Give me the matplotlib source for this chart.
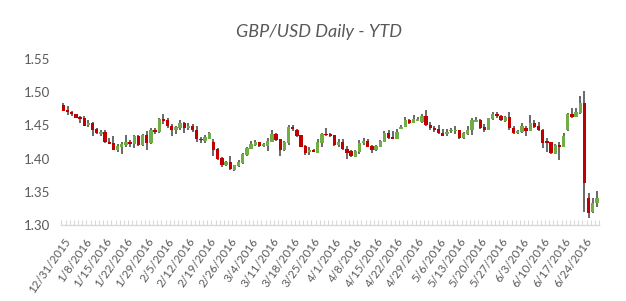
import numpy as np
import pandas as pd
import matplotlib
matplotlib.use('Agg')
import matplotlib.pyplot as plt

plt.rcParams['font.family'] = ['Lato', 'DejaVu Sans']

# trading days: 12/31/2015 then every weekday to 6/29/2016
dates = pd.DatetimeIndex(['2015-12-31']).append(pd.bdate_range('2016-01-04', '2016-06-29'))

opens = [
    1.4807, 1.4737, 1.4697, 1.4667, 1.4627, 1.4612, 1.4506, 1.4536, 1.4446, 1.4365,
    1.4396, 1.4255, 1.4235, 1.4135, 1.4175, 1.4205, 1.4255, 1.4225, 1.4345, 1.4210,
    1.4355, 1.4230, 1.4436, 1.4396, 1.4597, 1.4577, 1.4491, 1.4431, 1.4461, 1.4531,
    1.4466, 1.4486, 1.4426, 1.4295, 1.4260, 1.4300, 1.4250, 1.4145, 1.4009, 1.3904,
    1.3954, 1.3833, 1.3889, 1.3939, 1.4060, 1.4150, 1.4200, 1.4250, 1.4190, 1.4190,
    1.4250, 1.4371, 1.4290, 1.4130, 1.4240, 1.4481, 1.4431, 1.4351, 1.4190, 1.4095,
    1.4135, 1.4090, 1.4230, 1.4371, 1.4366, 1.4361, 1.4200, 1.4245, 1.4150, 1.4110,
    1.4029, 1.4100, 1.4230, 1.4270, 1.4195, 1.4130, 1.4180, 1.4255, 1.4391, 1.4330,
    1.4300, 1.4451, 1.4471, 1.4581, 1.4531, 1.4571, 1.4547, 1.4647, 1.4506, 1.4466,
    1.4446, 1.4386, 1.4366, 1.4416, 1.4416, 1.4426, 1.4305, 1.4366, 1.4426, 1.4557,
    1.4587, 1.4476, 1.4436, 1.4597, 1.4667, 1.4647, 1.4567, 1.4627, 1.4466, 1.4386,
    1.4396, 1.4456, 1.4416, 1.4536, 1.4486, 1.4436, 1.4265, 1.4245, 1.4074, 1.4205,
    1.4175, 1.4426, 1.4667, 1.4627, 1.4687, 1.4843, 1.3407, 1.3196, 1.3327,
]
highs = [
    1.4830, 1.4797, 1.4717, 1.4670, 1.4637, 1.4637, 1.4587, 1.4546, 1.4466, 1.4426,
    1.4426, 1.4315, 1.4335, 1.4215, 1.4255, 1.4355, 1.4275, 1.4355, 1.4360, 1.4375,
    1.4416, 1.4466, 1.4456, 1.4607, 1.4667, 1.4607, 1.4526, 1.4496, 1.4577, 1.4557,
    1.4536, 1.4526, 1.4496, 1.4325, 1.4355, 1.4396, 1.4290, 1.4160, 1.4029, 1.3969,
    1.4039, 1.3904, 1.3979, 1.4079, 1.4180, 1.4260, 1.4280, 1.4255, 1.4230, 1.4310,
    1.4431, 1.4391, 1.4290, 1.4260, 1.4511, 1.4511, 1.4441, 1.4351, 1.4210, 1.4180,
    1.4150, 1.4290, 1.4391, 1.4461, 1.4381, 1.4361, 1.4290, 1.4290, 1.4190, 1.4130,
    1.4130, 1.4280, 1.4310, 1.4300, 1.4210, 1.4210, 1.4280, 1.4411, 1.4431, 1.4421,
    1.4441, 1.4511, 1.4621, 1.4601, 1.4661, 1.4621, 1.4667, 1.4737, 1.4546, 1.4486,
    1.4506, 1.4446, 1.4446, 1.4456, 1.4496, 1.4431, 1.4396, 1.4496, 1.4607, 1.4627,
    1.4597, 1.4516, 1.4617, 1.4707, 1.4697, 1.4657, 1.4647, 1.4697, 1.4486, 1.4426,
    1.4536, 1.4496, 1.4657, 1.4587, 1.4546, 1.4446, 1.4305, 1.4255, 1.4215, 1.4245,
    1.4386, 1.4687, 1.4767, 1.4767, 1.4943, 1.5014, 1.3477, 1.3407, 1.3518,
]
lows = [
    1.4715, 1.4657, 1.4637, 1.4607, 1.4536, 1.4486, 1.4476, 1.4335, 1.4365, 1.4345,
    1.4235, 1.4215, 1.4124, 1.4104, 1.4064, 1.4175, 1.4175, 1.4165, 1.4195, 1.4195,
    1.4135, 1.4225, 1.4366, 1.4386, 1.4526, 1.4466, 1.4335, 1.4375, 1.4436, 1.4386,
    1.4436, 1.4406, 1.4255, 1.4235, 1.4235, 1.4290, 1.4040, 1.3979, 1.3869, 1.3889,
    1.3828, 1.3818, 1.3879, 1.3919, 1.4039, 1.4140, 1.4190, 1.4170, 1.4170, 1.4110,
    1.4250, 1.4270, 1.4039, 1.4120, 1.4210, 1.4411, 1.4330, 1.4170, 1.4059, 1.4049,
    1.4100, 1.4090, 1.4180, 1.4341, 1.4330, 1.4190, 1.4170, 1.4130, 1.3995, 1.4029,
    1.4029, 1.4070, 1.4200, 1.4170, 1.4080, 1.4120, 1.4170, 1.4250, 1.4300, 1.4290,
    1.4290, 1.4441, 1.4471, 1.4521, 1.4531, 1.4566, 1.4536, 1.4496, 1.4426, 1.4406,
    1.4366, 1.4335, 1.4346, 1.4386, 1.4366, 1.4295, 1.4295, 1.4355, 1.4355, 1.4546,
    1.4446, 1.4406, 1.4426, 1.4587, 1.4617, 1.4567, 1.4557, 1.4436, 1.4366, 1.4376,
    1.4386, 1.4335, 1.4416, 1.4466, 1.4416, 1.4165, 1.4094, 1.4074, 1.4074, 1.3984,
    1.4170, 1.4416, 1.4607, 1.4627, 1.4677, 1.3201, 1.3106, 1.3186, 1.3267,
]
closes = [
    1.4722, 1.4697, 1.4667, 1.4617, 1.4602, 1.4496, 1.4536, 1.4436, 1.4386, 1.4396,
    1.4245, 1.4225, 1.4135, 1.4195, 1.4215, 1.4255, 1.4225, 1.4345, 1.4210, 1.4351,
    1.4230, 1.4436, 1.4396, 1.4597, 1.4567, 1.4491, 1.4431, 1.4471, 1.4531, 1.4466,
    1.4496, 1.4426, 1.4295, 1.4275, 1.4330, 1.4390, 1.4130, 1.4000, 1.3909, 1.3954,
    1.3843, 1.3904, 1.3954, 1.4069, 1.4160, 1.4220, 1.4250, 1.4190, 1.4220, 1.4270,
    1.4371, 1.4280, 1.4130, 1.4250, 1.4481, 1.4451, 1.4341, 1.4180, 1.4090, 1.4135,
    1.4105, 1.4245, 1.4371, 1.4361, 1.4346, 1.4205, 1.4245, 1.4140, 1.4090, 1.4035,
    1.4110, 1.4235, 1.4270, 1.4180, 1.4130, 1.4195, 1.4270, 1.4391, 1.4310, 1.4300,
    1.4401, 1.4481, 1.4581, 1.4531, 1.4601, 1.4601, 1.4647, 1.4506, 1.4456, 1.4436,
    1.4386, 1.4346, 1.4406, 1.4426, 1.4426, 1.4305, 1.4386, 1.4436, 1.4577, 1.4587,
    1.4466, 1.4436, 1.4607, 1.4667, 1.4637, 1.4577, 1.4627, 1.4456, 1.4386, 1.4416,
    1.4496, 1.4416, 1.4536, 1.4476, 1.4426, 1.4235, 1.4235, 1.4084, 1.4205, 1.4175,
    1.4335, 1.4667, 1.4627, 1.4697, 1.4843, 1.3638, 1.3186, 1.3327, 1.3407,
]

o = np.array(opens)
h = np.array(highs)
l = np.array(lows)
c = np.array(closes)
x = np.arange(len(dates))

up_col = '#70AD47'
down_col = '#C00000'
txt_col = '#595959'
colors = np.where(c >= o, up_col, down_col)

fig = plt.figure(figsize=(6.26, 3.01), dpi=100)
ax = fig.add_axes([0.098, 0.2525, 0.859, 0.5515])

# wicks then bodies
ax.vlines(x, l, h, color='#404040', linewidth=1.1, zorder=2)
body_lo = np.minimum(o, c)
body_h = np.maximum(np.abs(c - o), 0.0006)
ax.bar(x, body_h, bottom=body_lo, width=0.8, color=colors, linewidth=0, zorder=3)

ax.set_xlim(-0.5, len(dates) - 0.5)
ax.set_ylim(1.30, 1.55)
ax.set_yticks(np.arange(1.30, 1.551, 0.05))
ax.set_yticklabels([f'{v:.2f}' for v in np.arange(1.30, 1.551, 0.05)])

# category axis: label every 5th day, tick between every category
lab_idx = x[::5]
ax.set_xticks(lab_idx)
ax.set_xticklabels([f'{d.month}/{d.day}/{d.year}' for d in dates[lab_idx]],
                   rotation=55, ha='right', rotation_mode='anchor')
ax.set_xticks(np.arange(-0.5, len(dates), 1), minor=True)
ax.tick_params(axis='x', which='major', length=0, pad=8, labelsize=8.3, labelcolor=txt_col)
ax.tick_params(axis='x', which='minor', direction='in', length=3.5, width=0.8, color='#D9D9D9')
ax.tick_params(axis='y', length=0, pad=8, labelsize=9.5, labelcolor=txt_col)

for s in ['top', 'right', 'left']:
    ax.spines[s].set_visible(False)
ax.spines['bottom'].set_color('#D9D9D9')
ax.spines['bottom'].set_linewidth(1)

fig.text(0.51, 0.893, 'GBP/USD Daily - YTD', ha='center', va='center',
         fontsize=13, style='italic', color=txt_col)

fig.savefig('out.png', dpi=100)
